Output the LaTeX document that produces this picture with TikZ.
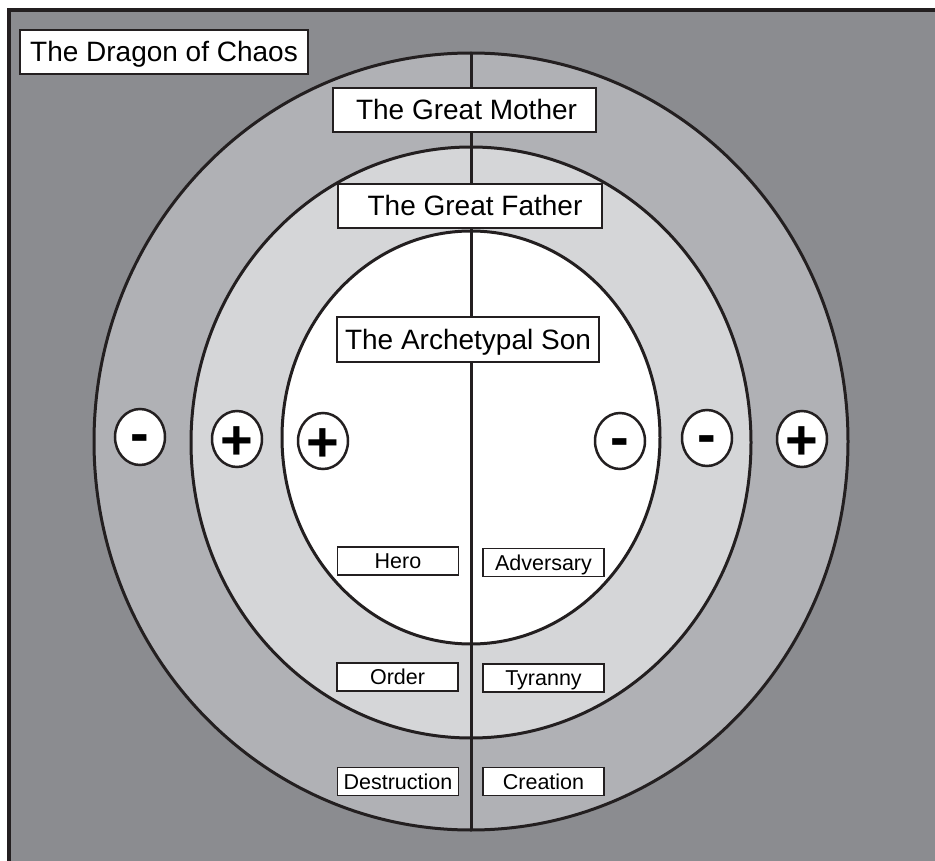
\documentclass[tikz,border=0pt]{standalone}
\usepackage{fontspec}
\setmainfont{Liberation Sans}
\usetikzlibrary{shapes.geometric}
\definecolor{framegray}{RGB}{139,140,144}
\definecolor{ringouter}{RGB}{176,177,181}
\definecolor{ringmid}{RGB}{213,214,216}
\definecolor{ink}{RGB}{35,31,32}
\begin{document}
\begin{tikzpicture}[x=1pt,y=-1pt,
  ring/.style={ellipse, draw=ink, line width=3pt, inner sep=0pt, outer sep=0pt},
  bigbox/.style={draw=ink, fill=white, line width=1.6pt, inner sep=0pt, minimum height=44pt, text height=20pt, text depth=0pt, font=\fontsize{28}{30}\selectfont},
  smallbox/.style={draw=ink, fill=white, line width=1.4pt, inner sep=0pt, minimum width=121pt, minimum height=28pt, text height=15.5pt, text depth=0pt, font=\fontsize{21.5}{24}\selectfont},
  sign/.style={ellipse, draw=ink, fill=white, line width=2.5pt, inner sep=0pt, minimum width=50pt, minimum height=56pt, text height=0pt, text depth=0pt, font=\fontsize{56}{60}\selectfont\bfseries},
  divider/.style={draw=ink, line width=3pt}
]
\useasboundingbox (0,0) rectangle (935,861);
\fill[white] (0,0) rectangle (935,861);
\begin{scope}
\clip (0,0) rectangle (935,861);
\fill[framegray] (9,10) rectangle (940,870);
\draw[ink, line width=3.5pt] (9,870) -- (9,10) -- (940,10);
\end{scope}

\node[ring, fill=ringouter, minimum width=754pt, minimum height=777pt] (outer) at (471,441.5) {};
\node[ring, fill=ringmid, minimum width=560pt, minimum height=591pt] (middle) at (471,442.5) {};
\node[ring, fill=white, minimum width=378pt, minimum height=413pt] (inner) at (471,437.5) {};
\draw[divider] (outer.north) -- (outer.south);

\node[bigbox, minimum width=288pt] (dragon) at (164,52) {The Dragon of Chaos};
\node[bigbox, minimum width=263pt] (mother) at (464.5,110) {\hspace*{4pt}The Great Mother};
\node[bigbox, minimum width=264pt] (father) at (470,206) {\hspace*{10pt}The Great Father};
\node[bigbox, minimum width=262pt, minimum height=45pt] (son) at (468,339.5) {The Archetypal Son};

\node[smallbox] (hero) at (398,561) {Hero};
\node[smallbox] (adversary) at (543.5,562.5) {Adversary};
\node[smallbox] (order) at (397.5,677) {Order};
\node[smallbox] (tyranny) at (543.5,678) {Tyranny};
\node[smallbox] (destruction) at (398,781.5) {Destruction};
\node[smallbox] (creation) at (543.5,781.5) {Creation};

\node[sign] (s1) at (140,437) {\raisebox{-0.28em}{-}};
\node[sign] (s2) at (237,439) {\raisebox{-0.37em}{+}};
\node[sign] (s3) at (323,441) {\raisebox{-0.37em}{+}};
\node[sign] (s4) at (620,441) {\raisebox{-0.28em}{-}};
\node[sign] (s5) at (707,438) {\raisebox{-0.28em}{-}};
\node[sign] (s6) at (802,439) {\raisebox{-0.37em}{+}};
\end{tikzpicture}
\end{document}
